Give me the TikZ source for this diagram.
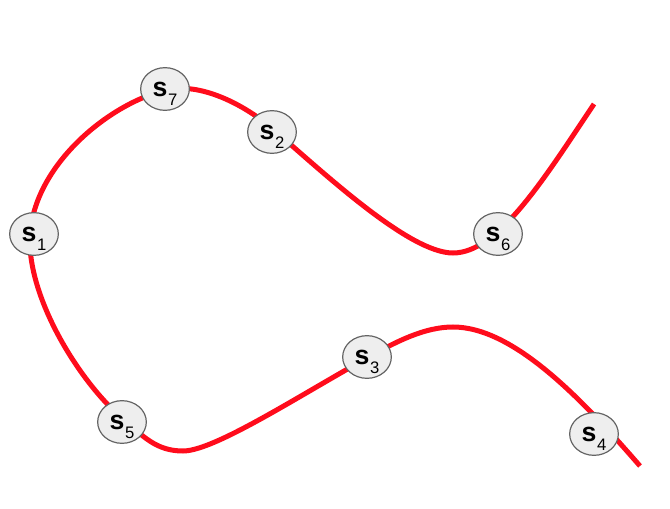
\documentclass[tikz,border=0pt]{standalone}
\usepackage{fontspec}
\setmainfont{Liberation Sans}
\usetikzlibrary{shapes.geometric,backgrounds}
\definecolor{curvered}{RGB}{255,12,28}
\definecolor{nodefill}{RGB}{238,238,238}
\definecolor{nodeline}{RGB}{100,100,100}
\newcommand{\slab}[1]{{\fontsize{20}{20}\selectfont\bfseries s}\hspace{0.5pt}\raisebox{-7pt}[0pt][0pt]{\fontsize{12.5}{12.5}\selectfont #1}}
\tikzset{
  statenode/.style={ellipse, draw=nodeline, fill=nodefill, line width=0.9pt,
    minimum width=36.5pt, minimum height=32pt, inner sep=0pt},
  pathline/.style={draw=curvered, line width=3.75pt}
}
\begin{document}
\begin{tikzpicture}[x=0.75pt,y=-0.75pt]
\useasboundingbox (0,0) rectangle (670,509);
\node[statenode] (s1) at (34,234) {\slab{1}};
\node[statenode] (s2) at (272,132) {\slab{2}};
\node[statenode] (s3) at (367,357) {\slab{3}};
\node[statenode] (s4) at (594,434) {\slab{4}};
\node[statenode] (s5) at (122,422) {\slab{5}};
\node[statenode] (s6) at (498,234) {\slab{6}};
\node[statenode] (s7) at (165,89) {\slab{7}};
\begin{pgfonlayer}{background}
\draw[pathline] (594,104)
  .. controls (544,179) and (498,253) .. (453,253)
  .. controls (410,253) and (327,176) .. (274,130)
  .. controls (244,104) and (200,82) .. (166,90)
  .. controls (108,104) and (33.5,166) .. (30,236)
  .. controls (27,296) and (78,381) .. (124,420)
  .. controls (143,436) and (156,451) .. (183,451)
  .. controls (214,451) and (297,397) .. (367,358)
  .. controls (397,341) and (425,327) .. (453,327)
  .. controls (513,327) and (581,398) .. (640,466);
\end{pgfonlayer}
\end{tikzpicture}
\end{document}
